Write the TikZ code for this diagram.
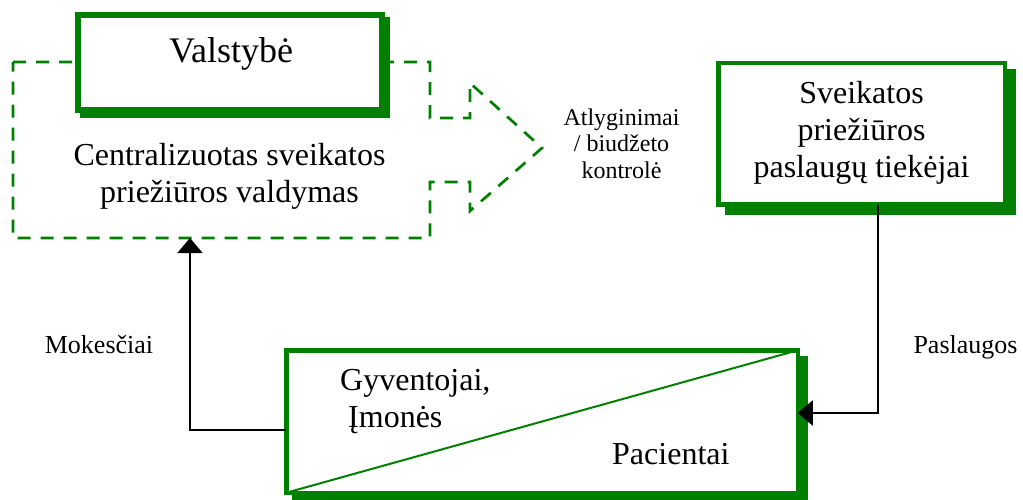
\documentclass[tikz,border=0pt]{standalone}
\usepackage{fontspec}
\setmainfont{Liberation Serif}
\usetikzlibrary{arrows.meta,shadows}
\definecolor{wgreen}{RGB}{0,128,0}
\begin{document}
\begin{tikzpicture}[x=1pt,y=-1pt,
  box/.style={draw=wgreen, fill=white, rectangle, inner sep=0pt, outer sep=0pt},
  gshadow/.style n args={2}{general shadow={draw=wgreen, fill=wgreen, line width=#1, opacity=1, shadow scale=1, shadow xshift=#2, shadow yshift=-#2}},
  bigtext/.style={font=\fontsize{32}{37}\selectfont, inner sep=0pt, anchor=base},
  smalltext/.style={font=\fontsize{26}{30}\selectfont, inner sep=0pt, anchor=base},
  conn/.style={draw=black, line width=1.8pt, -{Triangle[length=15pt,width=25pt]}},
  dashout/.style={draw=wgreen, line width=2.7pt, dash pattern=on 13pt off 10pt, line join=miter},
]
\useasboundingbox (0,0) rectangle (1023,499);

% dashed outline (central management)
\draw[dashout] (13,62) -- (430,62) -- (430,118) -- (470,118) -- (470,83)
  -- (542,148) -- (470,211) -- (470,182) -- (430,182) -- (430,238)
  -- (13,238) -- cycle;

% Valstybe box
\node[box, line width=6pt, minimum width=304pt, minimum height=95pt, gshadow={6pt}{5pt}] (state) at (230,62.4) {};
\node[font=\fontsize{36}{40}\selectfont, inner sep=0pt, anchor=base] (statetxt) at (231,62) {Valstybė};

\node[bigtext] (central) at (229.5,165) {\begin{tabular}[t]{@{}c@{}}Centralizuotas sveikatos\\priežiūros valdymas\end{tabular}};

% label of the big arrow
\node[font=\fontsize{24}{26.5}\selectfont, inner sep=0pt, anchor=base] (pay) at (621.5,125) {\begin{tabular}[t]{@{}c@{}}Atlyginimai\\/ biudžeto\\kontrolė\end{tabular}};

% providers box
\node[box, line width=4.5pt, minimum width=286.5pt, minimum height=141.5pt, gshadow={4.5pt}{8.5pt}] (prov) at (861.5,133.75) {};
\node[bigtext] (provtxt) at (861.5,103) {\begin{tabular}[t]{@{}c@{}}Sveikatos\\priežiūros\\paslaugų tiekėjai\end{tabular}};

% population box
\node[box, line width=4.5pt, minimum width=511.5pt, minimum height=142.5pt, gshadow={4.5pt}{8pt}] (pop) at (542,421.5) {};
\draw[wgreen, line width=2pt] (pop.south west) -- (pop.north east);
\node[bigtext, anchor=base west] (gyv) at (340,390) {\begin{tabular}[t]{@{}l@{}}Gyventojai,\\\hspace*{8pt}Įmonės\end{tabular}};
\node[bigtext, anchor=base west] (pac) at (612,464) {Pacientai};

% side labels
\node[smalltext] (tax) at (99,353) {Mokesčiai};
\node[smalltext] (serv) at (965.5,353) {Paslaugos};

% connectors
\coordinate (taxin) at (190,238);
\draw[conn] (pop.west |- 0,430) -| (taxin);
\draw[conn] (878,0 |- prov.south) |- (pop.east |- 0,413);
\end{tikzpicture}
\end{document}
